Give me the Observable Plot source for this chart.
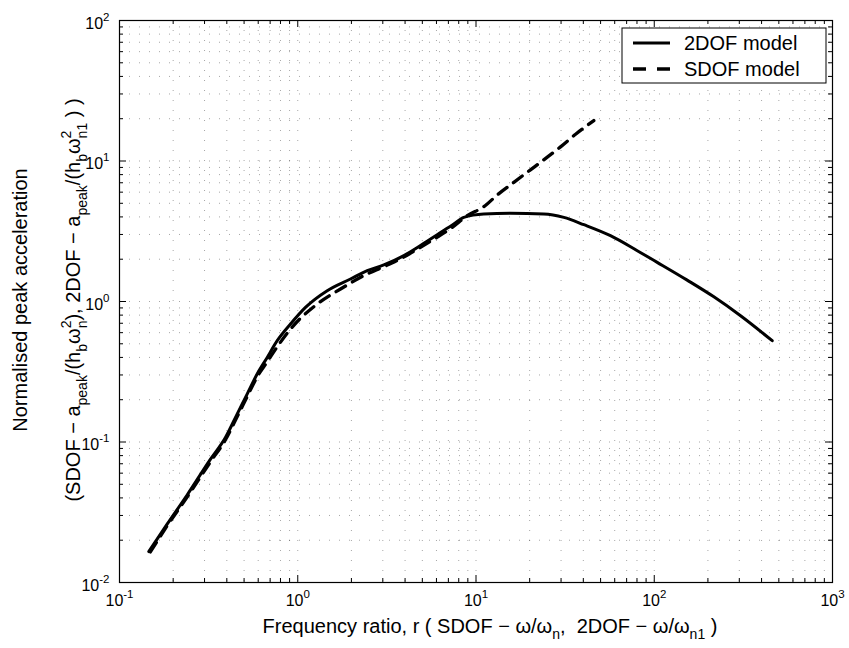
<!DOCTYPE html>
<html>
<head>
<meta charset="utf-8">
<script src="https://cdn.jsdelivr.net/npm/d3@7"></script>
<script src="https://cdn.jsdelivr.net/npm/@observablehq/plot@0.6"></script>
<style>
  html, body { margin: 0; padding: 0; background: #fff; }
  svg text { white-space: pre; }
</style>
</head>
<body>
<div id="chart"></div>
<script>
// ---- data ----
const r2dof = [0.146, 0.185, 0.240, 0.324, 0.393, 0.457, 0.520, 0.592, 0.674, 0.767, 0.911, 1.105, 1.463, 1.977, 2.453, 3.04, 3.94, 4.88, 6.06, 7.51, 8.54, 11.06, 15.6, 24.0, 31.1, 40.3, 56.8, 80.3, 103.9, 153, 216, 305, 459];
const a2dof = [0.0166, 0.0260, 0.0421, 0.0755, 0.1077, 0.158, 0.219, 0.305, 0.400, 0.526, 0.692, 0.908, 1.194, 1.446, 1.657, 1.82, 2.12, 2.50, 2.99, 3.56, 3.97, 4.20, 4.24, 4.20, 3.97, 3.52, 2.94, 2.30, 1.90, 1.42, 1.08, 0.792, 0.526];

const rsdof = [0.149, 0.185, 0.240, 0.324, 0.393, 0.457, 0.520, 0.592, 0.674, 0.767, 0.911, 1.285, 1.738, 2.45, 3.04, 3.85, 4.88, 6.06, 7.36, 8.93, 11.06, 13.2, 16.3, 20.2, 24.5, 29.8, 36.2, 45.8];
const asdof = [0.0165, 0.0253, 0.0407, 0.0723, 0.1037, 0.151, 0.210, 0.291, 0.372, 0.476, 0.637, 0.959, 1.227, 1.57, 1.77, 2.04, 2.43, 2.87, 3.37, 4.08, 4.73, 5.75, 7.05, 8.65, 10.4, 12.6, 15.5, 19.4];

const xTickExps = [-1, 0, 1, 2, 3];
const yTickExps = [-2, -1, 0, 1, 2];
const seriesNames = ["2DOF model", "SDOF model"];

// ---- layout ----
const W = 849, H = 648;
const mL = 119, mR = 17, mT = 20, mB = 66;
const innerW = W - mL - mR, innerH = H - mT - mB;
const FONT = "'Liberation Sans', Arial, Helvetica, sans-serif";

const tdof = r2dof.map((r, i) => ({r, a: a2dof[i]}));
const sdof = rsdof.map((r, i) => ({r, a: asdof[i]}));

function decadeTicks(exps) {
  const major = exps.map(e => 10 ** e);
  const minor = [];
  for (let i = 0; i < exps.length - 1; i++)
    for (let k = 2; k <= 9; k++) minor.push(k * 10 ** exps[i]);
  return {major, minor};
}
const xt = decadeTicks(xTickExps);
const yt = decadeTicks(yTickExps);
const xAll = [...xt.major, ...xt.minor];
const yAll = [...yt.major, ...yt.minor];

const gridStyle = {stroke: "#000", strokeOpacity: 0.35, strokeWidth: 1, strokeDasharray: "1,9"};
const MAJ = 7, MIN = 4;

const plot = Plot.plot({
  width: W, height: H,
  marginLeft: mL, marginRight: mR, marginTop: mT, marginBottom: mB,
  x: {type: "log", domain: [0.1, 1000], axis: null},
  y: {type: "log", domain: [0.01, 100], axis: null},
  style: {fontFamily: FONT, fontSize: "16px", background: "#fff", color: "#000", overflow: "visible"},
  marks: [
    // dotted grid
    Plot.ruleX(xAll, {x: d => d, ...gridStyle}),
    Plot.ruleY(yAll, {y: d => d, ...gridStyle}),
    // inward ticks on all four sides
    Plot.tickX(xt.major, {x: d => d, insetTop: innerH - MAJ, stroke: "#000"}),
    Plot.tickX(xt.minor, {x: d => d, insetTop: innerH - MIN, stroke: "#000"}),
    Plot.tickX(xt.major, {x: d => d, insetBottom: innerH - MAJ, stroke: "#000"}),
    Plot.tickX(xt.minor, {x: d => d, insetBottom: innerH - MIN, stroke: "#000"}),
    Plot.tickY(yt.major, {y: d => d, insetRight: innerW - MAJ, stroke: "#000"}),
    Plot.tickY(yt.minor, {y: d => d, insetRight: innerW - MIN, stroke: "#000"}),
    Plot.tickY(yt.major, {y: d => d, insetLeft: innerW - MAJ, stroke: "#000"}),
    Plot.tickY(yt.minor, {y: d => d, insetLeft: innerW - MIN, stroke: "#000"}),
    // curves
    Plot.line(tdof, {x: "r", y: "a", stroke: "#000", strokeWidth: 3, curve: "monotone-x"}),
    Plot.line(sdof, {x: "r", y: "a", stroke: "#000", strokeWidth: 3.3, strokeDasharray: "11,8", curve: "monotone-x"}),
    Plot.frame({stroke: "#000", strokeWidth: 1.2}),
    // tick labels
    Plot.text(xTickExps, {x: e => 10 ** e, frameAnchor: "bottom", dy: 23, text: e => `10^${e}`, fontSize: 16}),
    Plot.text(yTickExps, {y: e => 10 ** e, frameAnchor: "left", dx: -10, dy: 3, textAnchor: "end", text: e => `10^${e}`, fontSize: 16})
  ]
});

document.getElementById("chart").appendChild(plot);
const svg = d3.select(plot);

// rich text helper (sub/superscripts as tspans)
function rich(text, parts, opts) {
  const {sub = 6, sup = 8, sfs = 14} = opts;
  let off = 0;
  const span = (s, target, size, dx) => {
    const ts = text.append("tspan").text(s);
    if (target - off !== 0) ts.attr("dy", target - off);
    if (size) ts.attr("font-size", size);
    if (dx) ts.attr("dx", dx);
    off = target;
    return ts;
  };
  for (const p of parts) {
    if (typeof p === "string") span(p, 0);
    else if (p.sub !== undefined && p.sup !== undefined) {
      const s1 = span(p.sup, -sup, sfs);
      const w = s1.node().getComputedTextLength();
      span(p.sub, sub, sfs, -w);
    } else if (p.sub !== undefined) span(p.sub, sub, sfs);
    else if (p.sup !== undefined) span(p.sup, -sup, sfs);
  }
}

// tick labels -> 10 with superscript exponent
svg.selectAll("text").each(function() {
  const t = d3.select(this);
  const m = /^10\^(-?\d+)$/.exec(t.text());
  if (!m) return;
  t.text(null);
  rich(t, ["10", {sup: m[1]}], {sup: 8, sfs: 11.5});
});

// axis labels
const labels = svg.append("g").attr("font-family", FONT).attr("fill", "#000");

const xl = labels.append("text")
  .attr("x", 490).attr("y", 633).attr("text-anchor", "middle").attr("font-size", 20);
rich(xl, ["Frequency ratio, r ( SDOF \u2212 \u03c9/\u03c9", {sub: "n"}, ",  2DOF \u2212 \u03c9/\u03c9", {sub: "n1"}, " )"], {sub: 6, sfs: 14});

labels.append("text")
  .attr("transform", "translate(27,300) rotate(-90)")
  .attr("text-anchor", "middle").attr("font-size", 20)
  .text("Normalised peak acceleration");

const yl2 = labels.append("text")
  .attr("transform", "translate(80,300) rotate(-90)")
  .attr("text-anchor", "middle").attr("font-size", 20);
rich(yl2, [
  "(SDOF \u2212 a", {sub: "peak"}, "/(h", {sub: "b"}, "\u03c9", {sup: "2", sub: "n"},
  "), 2DOF \u2212 a", {sub: "peak"}, "/(h", {sub: "b"}, "\u03c9", {sup: "2", sub: "n1"}, " ) )"
], {sub: 7, sup: 9, sfs: 14});

// legend
const lg = svg.append("g").attr("font-family", FONT).attr("text-anchor", "start");
lg.append("rect").attr("x", 622).attr("y", 28).attr("width", 204).attr("height", 55)
  .attr("fill", "#fff").attr("stroke", "#000").attr("stroke-width", 1);
lg.append("line").attr("x1", 633).attr("x2", 670).attr("y1", 43).attr("y2", 43)
  .attr("stroke", "#000").attr("stroke-width", 3);
lg.append("line").attr("x1", 633).attr("x2", 670).attr("y1", 69).attr("y2", 69)
  .attr("stroke", "#000").attr("stroke-width", 3.3).attr("stroke-dasharray", "13,11");
lg.selectAll("text.lab").data(seriesNames).join("text")
  .attr("class", "lab")
  .attr("x", 684).attr("y", (d, i) => 50 + i * 26).attr("font-size", 20).attr("fill", "#000")
  .attr("text-anchor", "start")
  .text(d => d);
</script>
</body>
</html>
